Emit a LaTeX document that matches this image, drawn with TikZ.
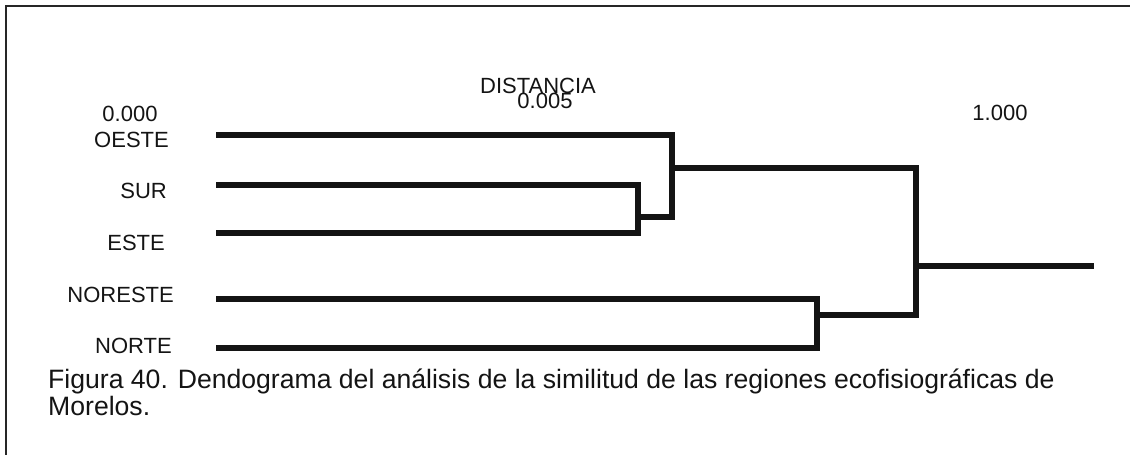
\documentclass[tikz,border=0pt]{standalone}
\usepackage{fontspec}
\setmainfont{Liberation Sans}
\begin{document}
\begin{tikzpicture}[x=1pt,y=-1pt,
  lbl/.style={inner sep=0pt,font=\fontsize{22}{26}\selectfont,text=black!92},
  captext/.style={inner sep=0pt,anchor=base west,font=\fontsize{26.6}{28}\selectfont,text=black!92},
  branch/.style={line width=6pt,draw=black!92,line cap=rect,line join=miter},
  frameline/.style={line width=1.6pt,draw=black!85}]
\useasboundingbox (0,0) rectangle (1130,455);
% frame (top and left only)
\coordinate (fa) at (6,455);
\coordinate (fb) at (6,6);
\coordinate (fc) at (1130,6);
\draw[frameline] (fa) -- (fb) -- (fc);
% axis labels
\node[lbl,anchor=base] (d0) at (130,121) {0.000};
\node[lbl,anchor=base] (dt) at (538,93) {DISTANCIA};
\node[lbl,anchor=base] (d5) at (545,108) {0.005};
\node[lbl,anchor=base] (d1) at (1000,120) {1.000};
% leaf labels
\node[lbl,anchor=base east] (oeste) at (169,147) {OESTE};
\node[lbl,anchor=base east] (sur) at (167,198) {SUR};
\node[lbl,anchor=base east] (este) at (165,250) {ESTE};
\node[lbl,anchor=base east] (noreste) at (174,302) {NORESTE};
\node[lbl,anchor=base east] (norte) at (172,353) {NORTE};
% leaf start points
\coordinate (l1) at (219,135);
\coordinate (l2) at (219,185);
\coordinate (l3) at (219,233);
\coordinate (l4) at (219,299);
\coordinate (l5) at (219,348);
% junctions
\coordinate (j2a) at (638,185);
\coordinate (j2b) at (638,233);
\coordinate (j2m) at (638,217);
\coordinate (j1a) at (672,135);
\coordinate (j1b) at (672,217);
\coordinate (j1m) at (672,168);
\coordinate (j3a) at (817,299);
\coordinate (j3b) at (817,348);
\coordinate (j3m) at (817,315);
\coordinate (j4a) at (916,168);
\coordinate (j4b) at (916,315);
\coordinate (j4m) at (916,266);
\coordinate (root) at (1091,266);
% branches
\draw[branch] (l1) -- (j1a);
\draw[branch] (l2) -- (j2a);
\draw[branch] (l3) -- (j2b);
\draw[branch] (l4) -- (j3a);
\draw[branch] (l5) -- (j3b);
\draw[branch] (j2a) -- (j2b);
\draw[branch] (j2m) -- (j1b);
\draw[branch] (j1a) -- (j1b);
\draw[branch] (j1m) -- (j4a);
\draw[branch] (j3a) -- (j3b);
\draw[branch] (j3m) -- (j4b);
\draw[branch] (j4a) -- (j4b);
\draw[branch] (j4m) -- (root);
% caption
\node[captext] (cap1) at (48,388) {Figura 40. Dendograma del análisis de la similitud de las regiones ecofisiográficas de};
\node[captext] (cap2) at (48,415) {Morelos.};
\end{tikzpicture}
\end{document}
